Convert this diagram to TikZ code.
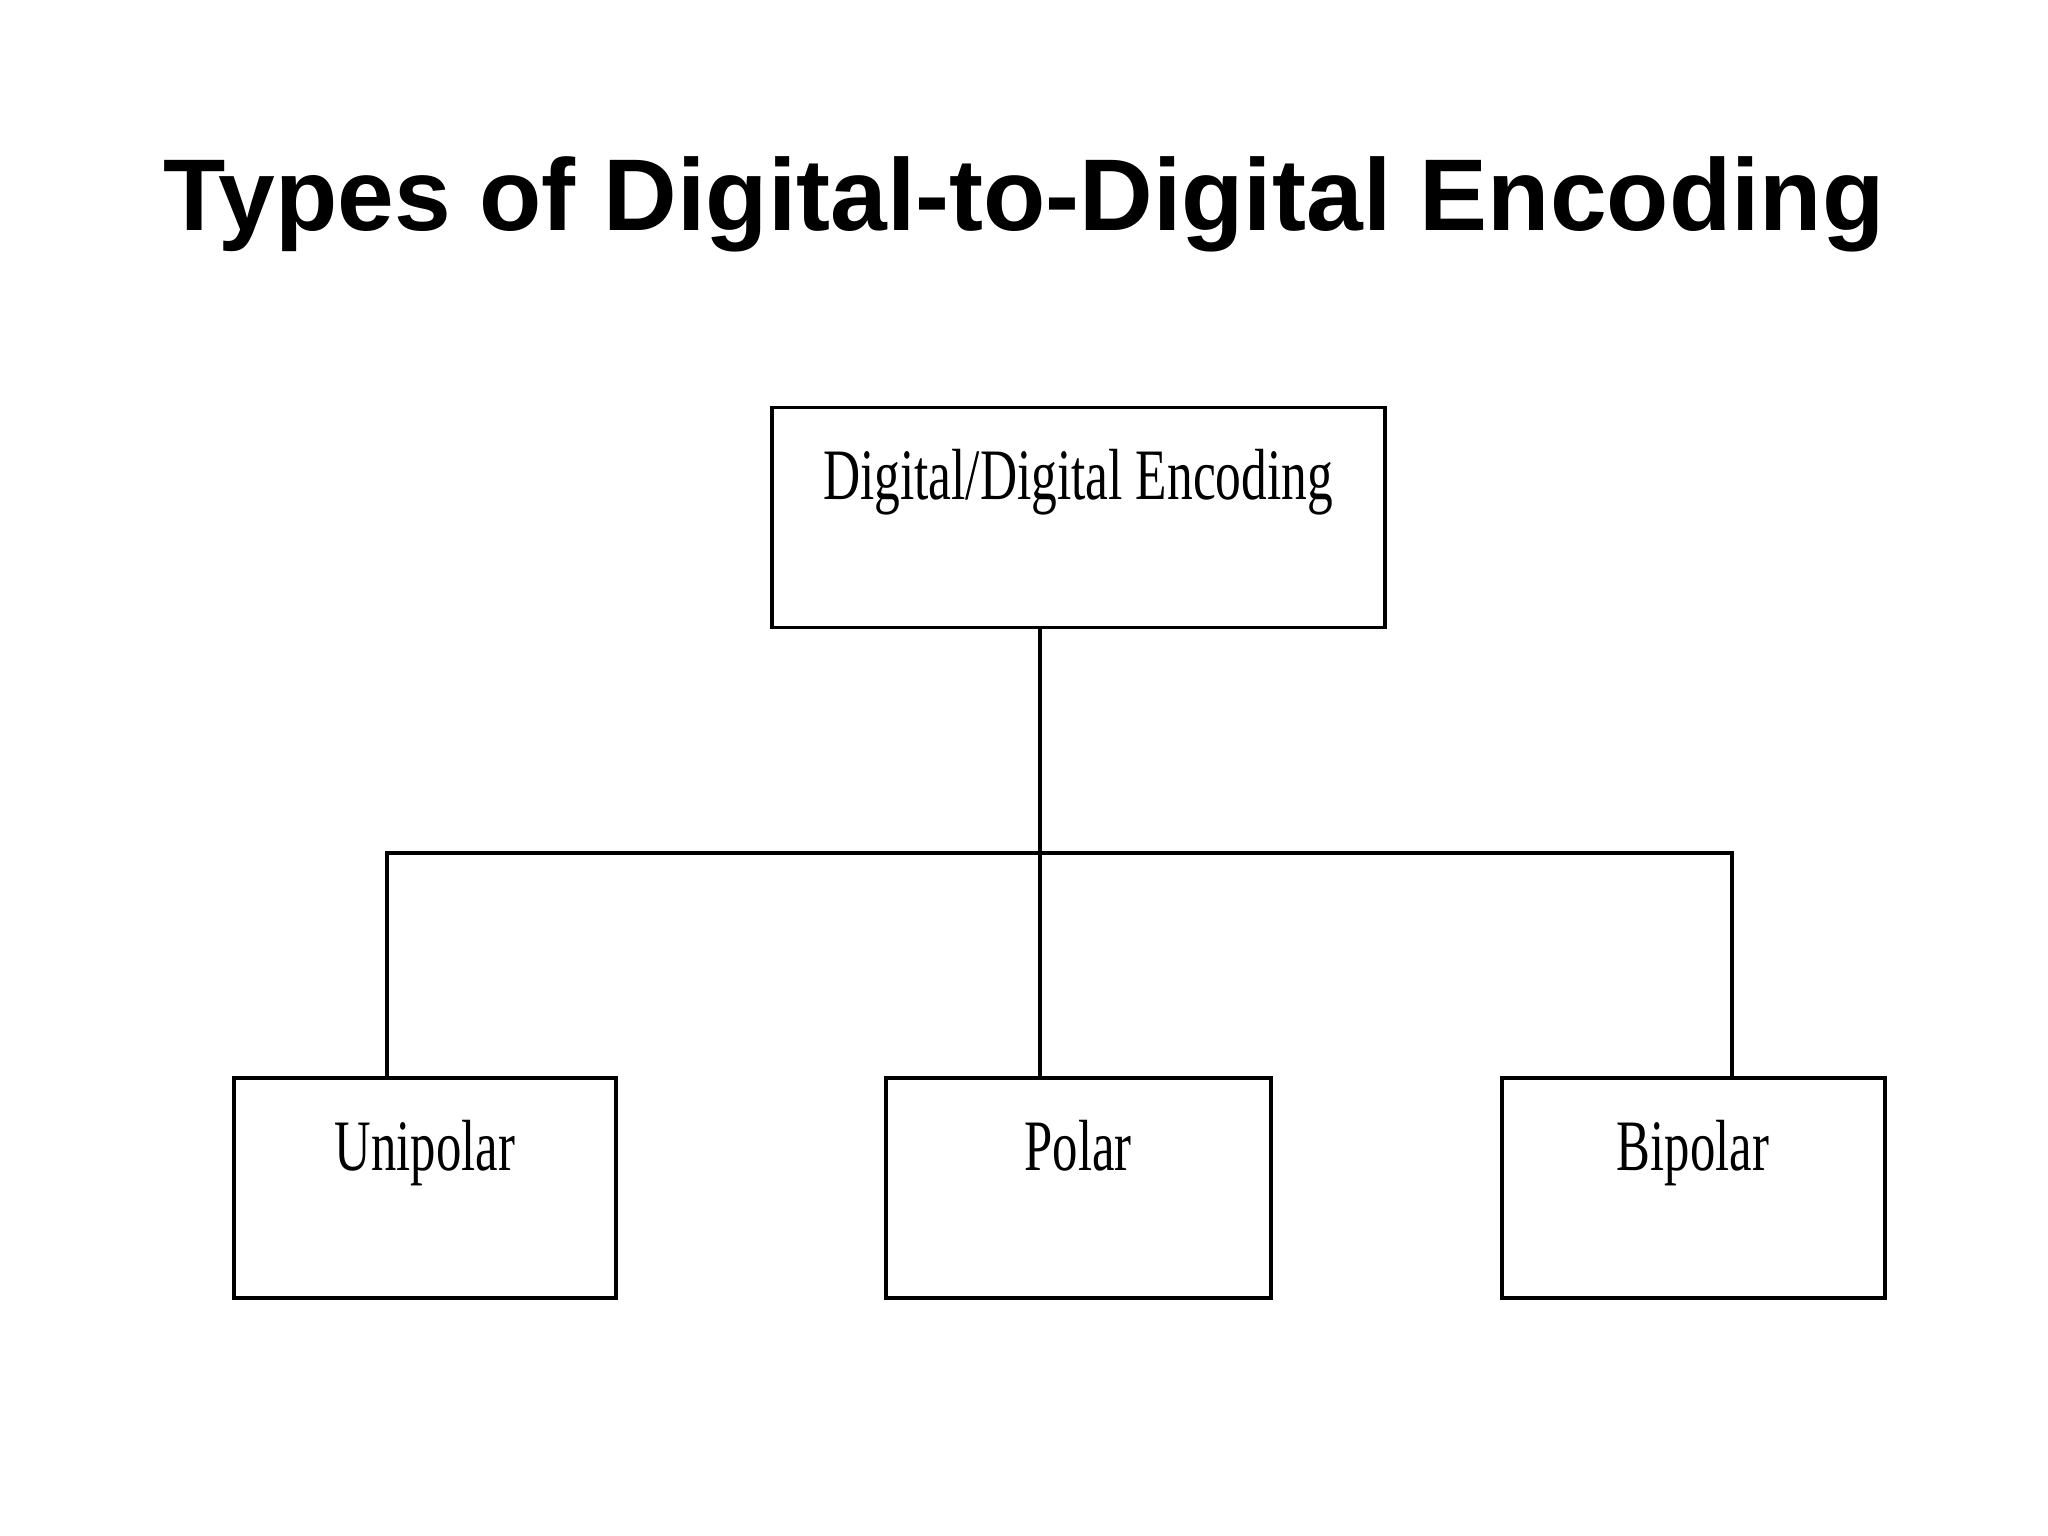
\documentclass[tikz,border=0pt]{standalone}
\usepackage{fontspec}
\setmainfont{Liberation Serif}
\newfontfamily\titlefont{Liberation Sans}
\begin{document}
\begin{tikzpicture}[x=0.01cm,y=-0.01cm,
  box/.style={draw,line width=0.035cm,inner sep=0pt,outer sep=0pt,minimum height=2.2cm},
  lbl/.style={anchor=base,inner sep=0pt,font=\fontsize{20.6pt}{24pt}\selectfont},
  conn/.style={line width=0.035cm}]
\useasboundingbox (0,0) rectangle (2048,1536);
\node[anchor=base,inner sep=0pt,font=\titlefont\bfseries\fontsize{29pt}{34pt}\selectfont] (title) at (1024,230) {Types of Digital-to-Digital Encoding};
\node[box,minimum width=6.13cm] (top) at (1078.5,517.5) {};
\node[box,minimum width=3.82cm] (uni) at (425,1188) {};
\node[box,minimum width=3.85cm] (pol) at (1078.5,1188) {};
\node[box,minimum width=3.83cm] (bip) at (1693.5,1188) {};
\node[lbl] (toptext) at (1078,499) {\scalebox{0.71}[1]{Digital/Digital Encoding}};
\node[lbl] (unitext) at (425,1170) {\scalebox{0.7}[1]{Unipolar}};
\node[lbl] (poltext) at (1078,1170) {\scalebox{0.7}[1]{Polar}};
\node[lbl] (biptext) at (1693,1170) {\scalebox{0.7}[1]{Bipolar}};
\coordinate (j) at (1040,853);
\coordinate (jl) at (387,853);
\coordinate (jr) at (1732,853);
\draw[conn] (top.south -| j) -- (j |- pol.north);
\draw[conn] (jl |- uni.north) -- (jl) -- (jr) -- (jr |- bip.north);
\end{tikzpicture}
\end{document}
